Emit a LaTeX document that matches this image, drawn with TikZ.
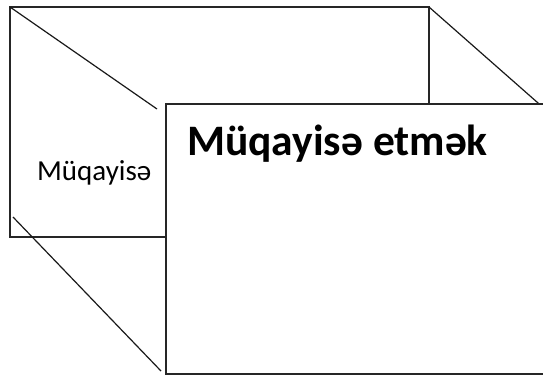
\documentclass[tikz,border=0pt]{standalone}
\usepackage{fontspec}
\setmainfont{Carlito}
\tikzset{
  edge/.style={draw=black!85, line width=1.3pt},
  diag/.style={draw=black!90, line width=1.2pt},
  smalltext/.style={anchor=base west, inner sep=0pt, font=\fontsize{29}{33}\selectfont},
  bigtext/.style={anchor=base west, inner sep=0pt, font=\fontsize{43.5}{50}\selectfont\bfseries},
}
\begin{document}
\begin{tikzpicture}[x=1pt,y=-1pt]
\useasboundingbox (0,0) rectangle (543,376);
% back face
\coordinate (b1) at (10,7);
\coordinate (b2) at (429,7);
\coordinate (b3) at (429,237);
\coordinate (b4) at (10,237);
\draw[edge] (b1) -- (b2) -- (b3) -- (b4) -- cycle;
% diagonals
\coordinate (d1e) at (157,109);
\coordinate (d2e) at (546,110);
\coordinate (d3s) at (13,217);
\coordinate (d3e) at (161,371);
\draw[diag] (b1) -- (d1e);
\draw[diag] (b2) -- (d2e);
\draw[diag] (d3s) -- (d3e);
\node[smalltext] (small) at (37,180) {Müqayisə};
% front face
\coordinate (f1) at (166,104);
\coordinate (f2) at (550,104);
\coordinate (f3) at (550,374);
\coordinate (f4) at (166,374);
\fill[white] (f1) rectangle (f3);
\draw[edge] (f2) -- (f1) -- (f4) -- (f3);
\node[bigtext] (big) at (187,155) {Müqayisə etmək};
\end{tikzpicture}
\end{document}
